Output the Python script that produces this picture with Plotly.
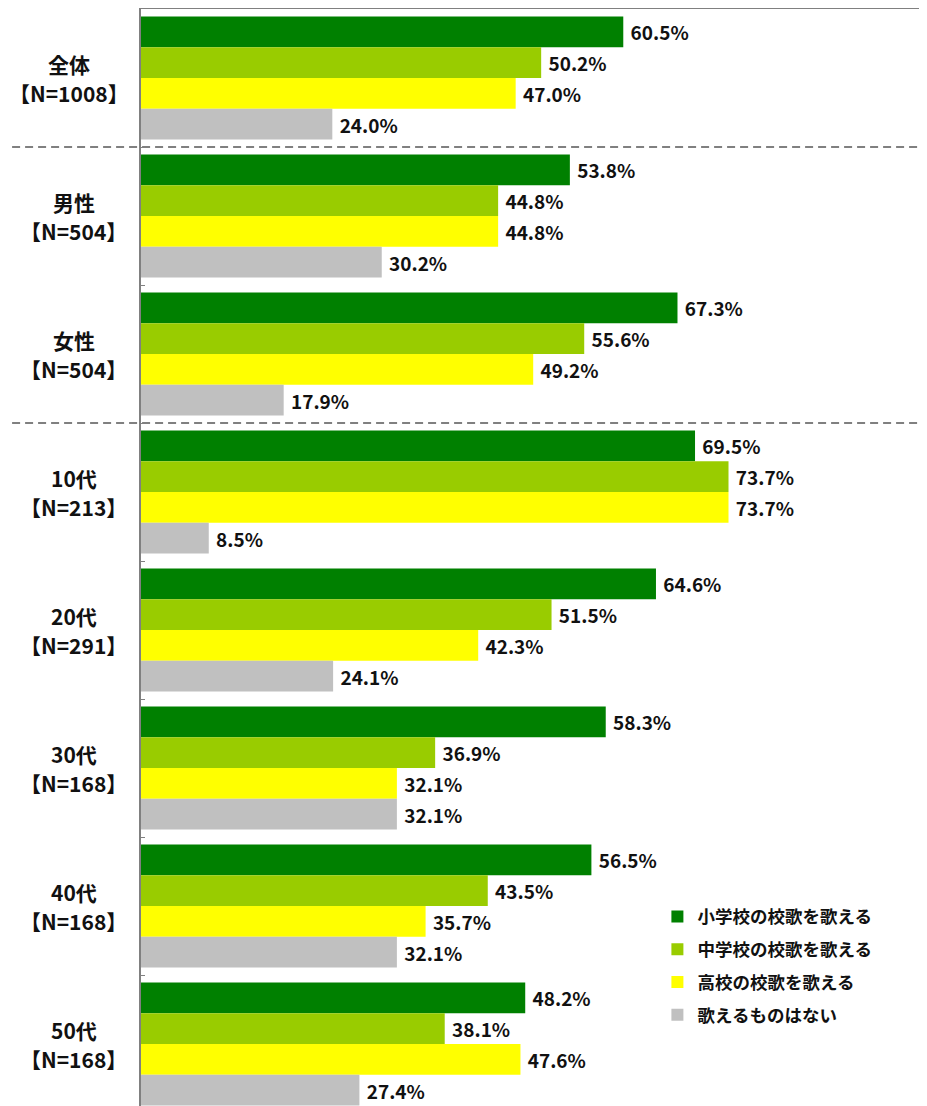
import plotly.graph_objects as go

categories = ["全体", "男性", "女性", "10代", "20代", "30代", "40代", "50代"]
sample_sizes = ["【N=1008】", "【N=504】", "【N=504】", "【N=213】", "【N=291】", "【N=168】", "【N=168】", "【N=168】"]
series_names = ["小学校の校歌を歌える", "中学校の校歌を歌える", "高校の校歌を歌える", "歌えるものはない"]
elementary = [60.5, 53.8, 67.3, 69.5, 64.6, 58.3, 56.5, 48.2]
junior_high = [50.2, 44.8, 55.6, 73.7, 51.5, 36.9, 43.5, 38.1]
high_school = [47.0, 44.8, 49.2, 73.7, 42.3, 32.1, 35.7, 47.6]
none_ = [24.0, 30.2, 17.9, 8.5, 24.1, 32.1, 32.1, 27.4]
colors = ["#008000", "#99CC00", "#FFFF00", "#C0C0C0"]

FONT = "Noto Sans CJK JP"
PLOT_LEFT = 141.0
PLOT_W = 786.0

fig = go.Figure()
for i, (name, vals, col) in enumerate(zip(series_names, [elementary, junior_high, high_school, none_], colors)):
    fig.add_trace(go.Bar(
        y=categories, x=vals, name=name, orientation="h",
        marker=dict(color=col, line=dict(width=0)),
        text=[f" {v:.1f}%" for v in vals], textposition="outside",
        textfont=dict(family=FONT, size=19, color="#111111", weight="bold"),
        constraintext="none", cliponaxis=False, legendgroup=f"g{i}",
    ))

annotations = []
label_font = dict(family=FONT, size=21, color="#111111", weight="bold")
for c, n in zip(categories, sample_sizes):
    center_px = 69 if len(n) >= 8 else 73.5
    xc = (center_px - PLOT_LEFT) / PLOT_W
    annotations.append(dict(x=xc, xref="paper", y=c, yref="y", xanchor="center", yanchor="middle",
                            yshift=14.5, showarrow=False, text=c, font=label_font))
    annotations.append(dict(x=xc, xref="paper", y=c, yref="y", xanchor="center", yanchor="middle",
                            yshift=-14.5, showarrow=False, text=n, font=label_font))

shapes = []
for yb in [0.5, 2.5]:
    shapes.append(dict(type="line", xref="paper", yref="y", x0=-0.164, x1=1, y0=yb, y1=yb,
                       line=dict(color="#808080", width=2, dash="8px,5px")))

fig.update_layout(
    width=919, height=1098,
    margin=dict(l=133, r=0, t=1, b=0),
    plot_bgcolor="white", paper_bgcolor="white",
    barmode="group", bargap=0.109, bargroupgap=0,
    showlegend=True,
    legend=dict(x=0.657, y=0.189, xanchor="left", yanchor="top", traceorder="grouped",
                tracegroupgap=7, bgcolor="rgba(0,0,0,0)",
                font=dict(family=FONT, size=17.5, color="#111111", weight="bold")),
    xaxis=dict(range=[0, 98.6], side="top", showline=True, linecolor="#808080", linewidth=2,
               showgrid=False, zeroline=False, showticklabels=False, ticks=""),
    yaxis=dict(type="category", categoryorder="array", categoryarray=categories,
               range=[7.449, -0.5], showline=True, linecolor="#808080", linewidth=2,
               showgrid=False, zeroline=False, showticklabels=False,
               ticks="inside", tickson="boundaries", ticklen=4, tickcolor="#808080"),
    annotations=annotations, shapes=shapes,
)
fig.write_html("out.html")
